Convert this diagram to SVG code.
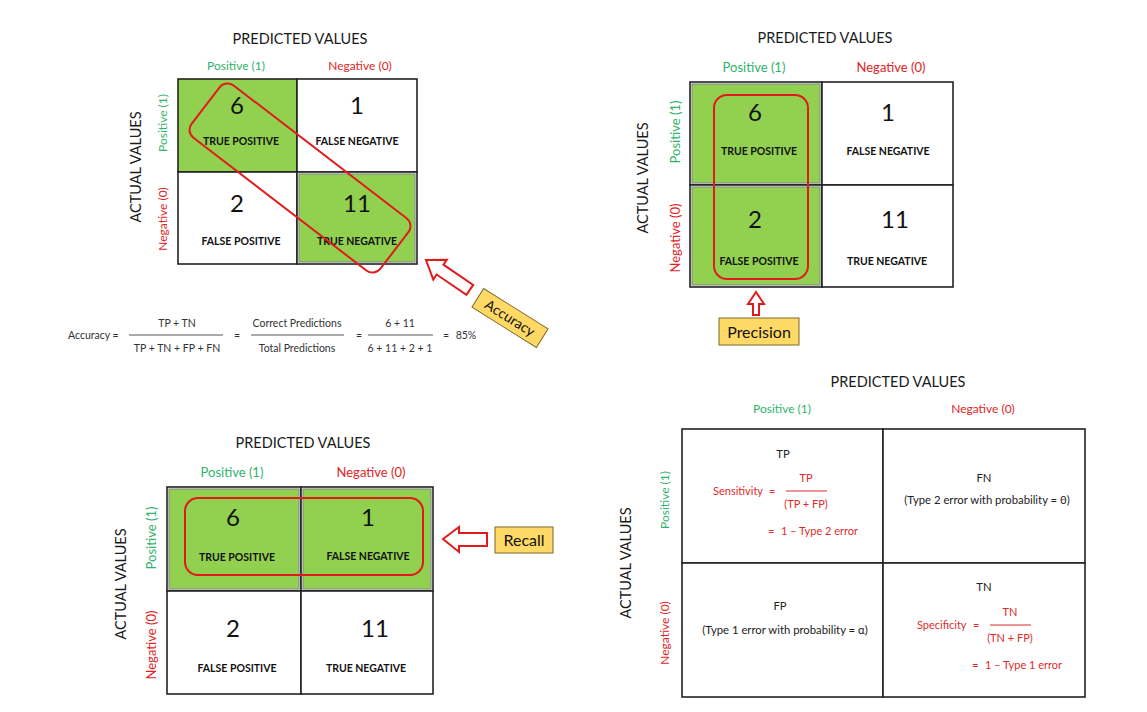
<svg xmlns="http://www.w3.org/2000/svg" width="1147" height="712" viewBox="0 0 1147 712">
<style>
text{font-family:Lato,"Liberation Sans","DejaVu Sans",sans-serif;fill:#111}
.hd{font-size:14.5px;text-anchor:middle;fill:#1a1a1a}
.pos{fill:#2fb36b;text-anchor:middle}
.neg{fill:#e02424;text-anchor:middle}
.num{font-size:24px;text-anchor:middle;fill:#111}
.lbl{font-weight:bold;font-size:10.5px;text-anchor:middle;fill:#111}
.cell{fill:#fff;stroke:#222;stroke-width:1.6}
.gcell{fill:#92d050;stroke:#222;stroke-width:1.6}
.gin{fill:#92d050;stroke:#8a958a;stroke-width:1.3}
.ring{fill:none;stroke:#e01b1b;stroke-width:2}
.f{font-size:10.5px;fill:#333;text-anchor:middle}
.fs{font-size:10.5px;fill:#333;text-anchor:start}
.fl{stroke:#555;stroke-width:1}
.rf{fill:#e02a2a;font-size:11px}
.rl{stroke:#e02a2a;stroke-width:1}
.bk{font-size:11.3px;fill:#222;text-anchor:middle}
.tag{fill:#ffd966;stroke:#7f6a2a;stroke-width:1}
.arrow{fill:#fff;stroke:#e01b1b;stroke-width:2;stroke-linejoin:miter}
</style>

<!-- ============ TOP-LEFT: ACCURACY ============ -->
<g id="tl-matrix">
  <text class="hd" x="300" y="44">PREDICTED VALUES</text>
  <text class="pos" x="236" y="70" font-size="12">Positive (1)</text>
  <text class="neg" x="360" y="70" font-size="12">Negative (0)</text>
  <text class="hd" transform="translate(136,167) rotate(-90)" dy="0.35em">ACTUAL VALUES</text>
  <text class="pos" font-size="12" transform="translate(163,123) rotate(-90)" dy="0.35em">Positive (1)</text>
  <text class="neg" font-size="12" transform="translate(163,219) rotate(-90)" dy="0.35em">Negative (0)</text>
  <g id="tl-tp"><rect class="gcell" x="178" y="79" width="119" height="93"/><text class="num" x="237" y="114">6</text><text class="lbl" x="241" y="145">TRUE POSITIVE</text></g>
  <g id="tl-fn"><rect class="cell" x="297" y="79" width="120" height="93"/><text class="num" x="357" y="114">1</text><text class="lbl" x="357" y="145">FALSE NEGATIVE</text></g>
  <g id="tl-fp"><rect class="cell" x="178" y="172" width="119" height="92"/><text class="num" x="237" y="212">2</text><text class="lbl" x="241" y="245">FALSE POSITIVE</text></g>
  <g id="tl-tn"><rect class="cell" x="297" y="172" width="120" height="92"/><rect class="gin" x="299" y="174" width="116" height="88"/><text class="num" x="357" y="212">11</text><text class="lbl" x="357" y="245">TRUE NEGATIVE</text></g>
  <rect class="ring" x="181" y="145" width="238" height="66" rx="10" transform="rotate(37.5 300 178)"/>
</g>

<g id="accuracy-tag" transform="translate(510,318) rotate(32)">
  <rect class="tag" x="-38" y="-11" width="76" height="22"/>
  <text x="0" y="5" font-size="14" text-anchor="middle" fill="#222">Accuracy</text>
</g>

<g id="accuracy-formula">
  <text class="fs" x="68" y="339">Accuracy =</text>
  <text class="f" x="177" y="327">TP + TN</text>
  <line class="fl" x1="129" y1="335" x2="223" y2="335"/>
  <text class="f" x="177" y="352">TP + TN + FP + FN</text>
  <text class="f" x="237" y="339">=</text>
  <text class="f" x="297" y="327">Correct Predictions</text>
  <line class="fl" x1="251" y1="335" x2="344" y2="335"/>
  <text class="f" x="297" y="352">Total Predictions</text>
  <text class="f" x="359" y="339">=</text>
  <text class="f" x="400" y="327">6 + 11</text>
  <line class="fl" x1="368" y1="335" x2="433" y2="335"/>
  <text class="f" x="400" y="352">6 + 11 + 2 + 1</text>
  <text class="f" x="446" y="339">=</text>
  <text class="f" x="466" y="339">85%</text>
</g>

<!-- ============ TOP-RIGHT: PRECISION ============ -->
<g id="tr-matrix">
  <text class="hd" x="825" y="43" font-size="15.5">PREDICTED VALUES</text>
  <text class="pos" x="754" y="72" font-size="13">Positive (1)</text>
  <text class="neg" x="891" y="72" font-size="13">Negative (0)</text>
  <text class="hd" font-size="15.5" transform="translate(643,178) rotate(-90)" dy="0.35em">ACTUAL VALUES</text>
  <text class="pos" font-size="13" transform="translate(675,132) rotate(-90)" dy="0.35em">Positive (1)</text>
  <text class="neg" font-size="13" transform="translate(675,238) rotate(-90)" dy="0.35em">Negative (0)</text>
  <g id="tr-tp"><rect class="cell" x="690" y="82" width="132" height="103"/><rect class="gin" x="692" y="84" width="128" height="99"/><text class="num" x="755" y="121">6</text><text class="lbl" font-size="11.5" x="759" y="155">TRUE POSITIVE</text></g>
  <g id="tr-fn"><rect class="cell" x="822" y="82" width="131" height="103"/><text class="num" x="888" y="121">1</text><text class="lbl" font-size="11.5" x="888" y="155">FALSE NEGATIVE</text></g>
  <g id="tr-fp"><rect class="cell" x="690" y="185" width="132" height="102"/><rect class="gin" x="692" y="187" width="128" height="98"/><text class="num" x="755" y="228">2</text><text class="lbl" font-size="11.5" x="759" y="265">FALSE POSITIVE</text></g>
  <g id="tr-tn"><rect class="cell" x="822" y="185" width="131" height="102"/><text class="num" x="895" y="228">11</text><text class="lbl" font-size="11.5" x="887" y="265">TRUE NEGATIVE</text></g>
  <rect class="ring" x="714" y="95" width="94" height="184" rx="13"/>
</g>

<g id="precision-tag">
  <rect class="tag" x="719" y="318" width="80" height="27"/>
  <text x="759" y="338" font-size="16" text-anchor="middle" fill="#222">Precision</text>
</g>

<!-- ============ BOTTOM-LEFT: RECALL ============ -->
<g id="bl-matrix">
  <text class="hd" x="303" y="448" font-size="15.5">PREDICTED VALUES</text>
  <text class="pos" x="232" y="477" font-size="13">Positive (1)</text>
  <text class="neg" x="371" y="477" font-size="13">Negative (0)</text>
  <text class="hd" font-size="15.5" transform="translate(121,584) rotate(-90)" dy="0.35em">ACTUAL VALUES</text>
  <text class="pos" font-size="13" transform="translate(151,538) rotate(-90)" dy="0.35em">Positive (1)</text>
  <text class="neg" font-size="13" transform="translate(151,645) rotate(-90)" dy="0.35em">Negative (0)</text>
  <g id="bl-tp"><rect class="cell" x="167" y="487" width="134" height="104"/><rect class="gin" x="169" y="489" width="130" height="100"/><text class="num" x="233" y="526">6</text><text class="lbl" font-size="11.5" x="237" y="561">TRUE POSITIVE</text></g>
  <g id="bl-fn"><rect class="cell" x="301" y="487" width="132" height="104"/><rect class="gin" x="303" y="489" width="128" height="100"/><text class="num" x="368" y="526">1</text><text class="lbl" font-size="11.5" x="368" y="560">FALSE NEGATIVE</text></g>
  <g id="bl-fp"><rect class="cell" x="167" y="591" width="134" height="103"/><text class="num" x="233" y="637">2</text><text class="lbl" font-size="11.5" x="237" y="672">FALSE POSITIVE</text></g>
  <g id="bl-tn"><rect class="cell" x="301" y="591" width="132" height="103"/><text class="num" x="375" y="637">11</text><text class="lbl" font-size="11.5" x="366" y="672">TRUE NEGATIVE</text></g>
  <rect class="ring" x="185" y="498" width="238" height="77" rx="13"/>
</g>

<g id="recall-tag">
  <rect class="tag" x="495" y="527" width="58" height="26"/>
  <text x="524" y="546" font-size="16" text-anchor="middle" fill="#222">Recall</text>
</g>

<!-- ============ BOTTOM-RIGHT: DEFINITIONS ============ -->
<g id="br-matrix">
  <text class="hd" x="898" y="387" font-size="14.5">PREDICTED VALUES</text>
  <text class="pos" x="782" y="413" font-size="12">Positive (1)</text>
  <text class="neg" x="983" y="413" font-size="12">Negative (0)</text>
  <text class="hd" font-size="14.5" transform="translate(626,563) rotate(-90)" dy="0.35em">ACTUAL VALUES</text>
  <text class="pos" font-size="12" transform="translate(665,500) rotate(-90)" dy="0.35em">Positive (1)</text>
  <text class="neg" font-size="12" transform="translate(665,633) rotate(-90)" dy="0.35em">Negative (0)</text>
  <g id="br-tp">
    <rect class="cell" x="682" y="429" width="201" height="134"/>
    <text class="bk" x="783" y="458">TP</text>
    <text class="rf" x="713" y="495">Sensitivity</text>
    <text class="rf" x="769" y="495">=</text>
    <text class="rf" x="806" y="482" text-anchor="middle">TP</text>
    <line class="rl" x1="786" y1="491" x2="827" y2="491"/>
    <text class="rf" x="806" y="508" text-anchor="middle">(TP + FP)</text>
    <text class="rf" x="768" y="535">=</text>
    <text class="rf" x="781" y="535">1 – Type 2 error</text>
  </g>
  <g id="br-fn">
    <rect class="cell" x="883" y="429" width="202" height="134"/>
    <text class="bk" x="984" y="482">FN</text>
    <text class="bk" x="987" y="504">(Type 2 error with probability = θ)</text>
  </g>
  <g id="br-fp">
    <rect class="cell" x="682" y="563" width="201" height="134"/>
    <text class="bk" x="780" y="610">FP</text>
    <text class="bk" x="785" y="634">(Type 1 error with probability = α)</text>
  </g>
  <g id="br-tn">
    <rect class="cell" x="883" y="563" width="202" height="134"/>
    <text class="bk" x="984" y="591">TN</text>
    <text class="rf" x="917" y="629">Specificity</text>
    <text class="rf" x="973" y="629">=</text>
    <text class="rf" x="1010" y="616" text-anchor="middle">TN</text>
    <line class="rl" x1="990" y1="625" x2="1031" y2="625"/>
    <text class="rf" x="1010" y="642" text-anchor="middle">(TN + FP)</text>
    <text class="rf" x="972" y="669">=</text>
    <text class="rf" x="985" y="669">1 – Type 1 error</text>
  </g>
</g>

<!-- ============ CONNECTORS (block arrows) ============ -->
<g id="connectors">
  <path id="arrow-accuracy" class="arrow" transform="translate(426,260) rotate(34.3)" d="M0,0 L17,-12 L17,-6 L53,-6 L53,6 L17,6 L17,12 Z"/>
  <path id="arrow-precision" class="arrow" d="M756,292 L764,304 L759,304 L759,315 L753,315 L753,304 L748,304 Z"/>
  <path id="arrow-recall" class="arrow" d="M443,539 L459,527 L459,533 L487,533 L487,546 L459,546 L459,552 Z"/>
</g>
</svg>
